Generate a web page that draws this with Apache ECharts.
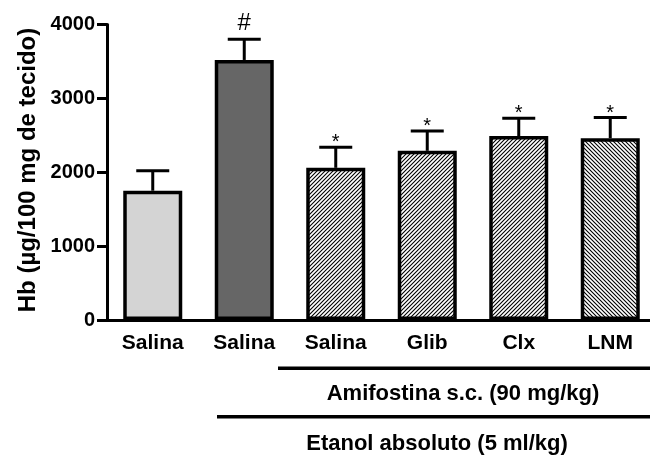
<!DOCTYPE html>
<html>
<head>
<meta charset="utf-8">
<script src="https://cdn.jsdelivr.net/npm/echarts@6/dist/echarts.min.js"></script>
<style>
  html, body { margin: 0; padding: 0; background: #fff; }
  #chart { width: 650px; height: 455px; }
</style>
</head>
<body>
<div id="chart"></div>
<script>
var categories = ['Salina', 'Salina', 'Salina', 'Glib', 'Clx', 'LNM']
var means = [1750, 3520, 2060, 2290, 2490, 2460]
var sems = [270, 280, 280, 270, 240, 280]
var marks = ['', '#', '*', '*', '*', '*']
var yTicks = [0, 1000, 2000, 3000, 4000]

var FONT = '"Liberation Sans", Arial, sans-serif'

// hatch tile, dir 1 = '/', -1 = '\'
function hatch(dir) {
  var s = 4
  var c = document.createElement('canvas')
  c.width = s
  c.height = s
  var g = c.getContext('2d')
  g.fillStyle = '#fff'
  g.fillRect(0, 0, s, s)
  g.strokeStyle = '#000'
  g.lineWidth = 1.1
  g.beginPath()
  if (dir > 0) {
    g.moveTo(-1, s + 1); g.lineTo(s + 1, -1)
    g.moveTo(-1, 1); g.lineTo(1, -1)
    g.moveTo(s - 1, s + 1); g.lineTo(s + 1, s - 1)
  } else {
    g.moveTo(-1, -1); g.lineTo(s + 1, s + 1)
    g.moveTo(s - 1, -1); g.lineTo(s + 1, 1)
    g.moveTo(-1, s - 1); g.lineTo(1, s + 1)
  }
  g.stroke()
  return { image: c, repeat: 'repeat' }
}

var fwd = hatch(1)
var back = hatch(-1)
var fills = ['#d4d4d4', '#666666', fwd, fwd, fwd, back]

var chart = echarts.init(document.getElementById('chart'), null, { renderer: 'canvas' })

chart.setOption({
  animation: false,
  backgroundColor: '#fff',
  grid: { left: 107, top: 24.5, width: 549, height: 295.5, outerBoundsMode: 'none' },
  xAxis: {
    type: 'category',
    data: categories,
    axisLine: { lineStyle: { color: '#000', width: 3 } },
    axisTick: { alignWithLabel: true, length: 8, lineStyle: { color: '#000', width: 3 } },
    axisLabel: { interval: 0, margin: 13, color: '#000', fontFamily: FONT, fontWeight: 'bold', fontSize: 21 },
    splitLine: { show: false }
  },
  yAxis: {
    type: 'value',
    min: yTicks[0],
    max: yTicks[yTicks.length - 1],
    interval: 1000,
    axisLine: { show: true, lineStyle: { color: '#000', width: 3 } },
    axisTick: { show: true, length: 10, lineStyle: { color: '#000', width: 3 } },
    axisLabel: {
      margin: 12, color: '#000', fontFamily: FONT, fontWeight: 'bold', fontSize: 20,
      formatter: function (v) { return String(v) }
    },
    splitLine: { show: false }
  },
  series: [
    {
      type: 'bar',
      barWidth: 59,
      data: means.map(function (v, i) {
        return { value: v, itemStyle: { color: fills[i], borderColor: '#000', borderWidth: 3.5 } }
      })
    },
    {
      type: 'custom',
      clip: false,
      z: 5,
      data: means.map(function (v, i) { return [i, v + sems[i], v] }),
      renderItem: function (params, api) {
        var i = api.value(0)
        var top = api.coord([i, api.value(1)])
        var base = api.coord([i, api.value(2)])
        var half = 16.5
        var mk = marks[params.dataIndex]
        var kids = [
          { type: 'line', shape: { x1: top[0], y1: base[1], x2: top[0], y2: top[1] }, style: { stroke: '#000', lineWidth: 3 } },
          { type: 'line', shape: { x1: top[0] - half, y1: top[1], x2: top[0] + half, y2: top[1] }, style: { stroke: '#000', lineWidth: 3 } }
        ]
        if (mk) {
          kids.push({
            type: 'text',
            x: top[0],
            y: top[1] - (mk === '#' ? 16 : 4.5),
            style: {
              text: mk, fill: '#000', align: 'center', verticalAlign: 'middle',
              font: (mk === '#' ? '24px ' : '20px ') + FONT
            }
          })
        }
        return { type: 'group', children: kids }
      }
    }
  ],
  graphic: [
    {
      type: 'text', x: 28.5, y: 170, rotation: Math.PI / 2,
      style: { text: 'Hb (\u00b5g/100 mg de tecido)', fill: '#000', align: 'center', verticalAlign: 'middle',
        font: 'bold 24px ' + FONT }
    },
    { type: 'line', shape: { x1: 278, y1: 368.3, x2: 650, y2: 368.3 }, style: { stroke: '#000', lineWidth: 3.5 } },
    {
      type: 'text', x: 463, y: 394,
      style: { text: 'Amifostina s.c. (90 mg/kg)', fill: '#000', align: 'center', verticalAlign: 'middle',
        font: 'bold 22px ' + FONT }
    },
    { type: 'line', shape: { x1: 217, y1: 416.7, x2: 650, y2: 416.7 }, style: { stroke: '#000', lineWidth: 3.5 } },
    {
      type: 'text', x: 437, y: 444,
      style: { text: 'Etanol absoluto (5 ml/kg)', fill: '#000', align: 'center', verticalAlign: 'middle',
        font: 'bold 22px ' + FONT }
    }
  ]
})
</script>
</body>
</html>
